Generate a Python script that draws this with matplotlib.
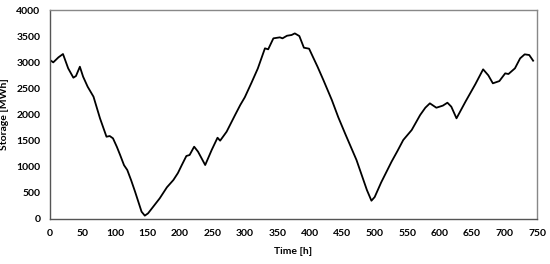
import matplotlib
matplotlib.use("Agg")
import matplotlib.pyplot as plt

hours = [0, 5, 13, 20, 28, 36, 40, 46, 51, 58, 67, 77, 87, 92, 97, 103, 108, 114, 119,
         125, 131, 141, 146, 151, 159, 169, 180, 190, 197, 203, 210, 215, 222, 228, 239,
         249, 258, 262, 272, 285, 293, 300, 310, 320, 331, 336, 344, 354, 358, 365, 372,
         377, 384, 391, 399, 405, 412, 421, 434, 444, 455, 472, 488, 495, 500, 510, 526,
         535, 544, 557, 570, 578, 585, 595, 605, 612, 618, 626, 640, 655, 667, 675, 682,
         692, 701, 706, 716, 724, 731, 738, 744]
storage = [3043, 2998, 3094, 3158, 2884, 2705, 2737, 2915, 2724, 2532, 2341, 1927,
           1575, 1588, 1544, 1380, 1225, 1030, 938, 740, 523, 140, 64, 108, 236, 396,
           606, 746, 880, 1033, 1206, 1225, 1384, 1288, 1033, 1321, 1556, 1499, 1671,
           1990, 2182, 2330, 2600, 2880, 3267, 3248, 3458, 3477, 3458, 3508, 3522, 3553,
           3502, 3279, 3260, 3100, 2915, 2660, 2278, 1946, 1620, 1129, 555, 350, 420,
           700, 1097, 1300, 1512, 1703, 1990, 2130, 2214, 2130, 2170, 2226, 2150, 1927,
           2250, 2580, 2865, 2750, 2597, 2640, 2788, 2775, 2884, 3075, 3152, 3139, 3030]

x_ticks = [0, 50, 100, 150, 200, 250, 300, 350, 400, 450, 500, 550, 600, 650, 700, 750]
y_ticks = [0, 500, 1000, 1500, 2000, 2500, 3000, 3500, 4000]

plt.rcParams['font.family'] = ['Lato', 'DejaVu Sans']

fig = plt.figure(figsize=(5.5, 2.64), dpi=100)
ax = fig.add_axes([0.0909, 0.1705, 0.8855, 0.7915])
ax.plot(hours, storage, color='black', linewidth=1.3)
ax.set_xlim(0, 750)
ax.set_ylim(0, 4000)
ax.set_xticks(x_ticks)
ax.set_yticks(y_ticks)
ax.tick_params(axis='x', length=0, labelsize=7.5, pad=7.5)
ax.tick_params(axis='y', length=0, labelsize=7.5, pad=7)
for lab in ax.get_xticklabels() + ax.get_yticklabels():
    lab.set_fontweight('bold')
for s in ['left', 'bottom']:
    ax.spines[s].set_color('#555555')
for s in ['top', 'right']:
    ax.spines[s].set_color('#888888')
for s in ax.spines.values():
    s.set_linewidth(1.0)
ax.set_xlabel('Time [h]', fontsize=7.5, fontweight='bold', labelpad=6)
ax.set_ylabel('Storage [MWh]', fontsize=7.5, fontweight='bold', labelpad=5)
fig.savefig('out.png', dpi=100)
